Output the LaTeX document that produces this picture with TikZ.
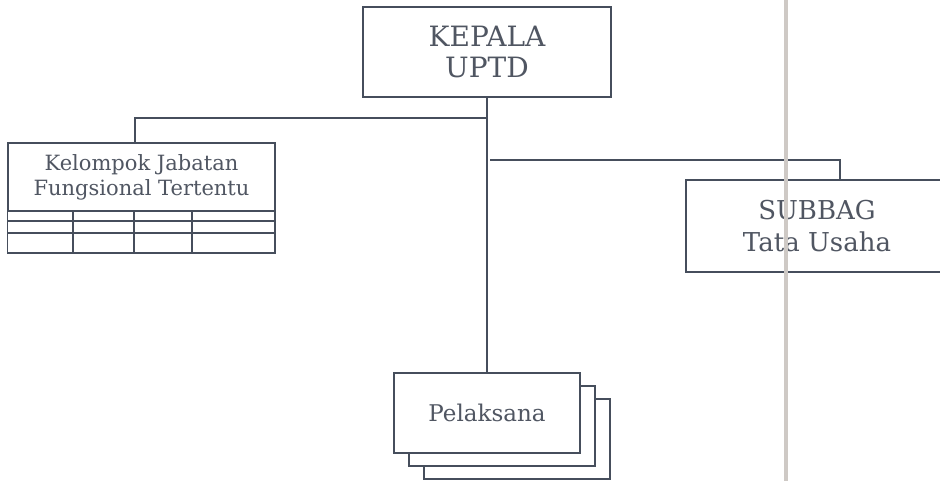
\documentclass[tikz,border=0pt]{standalone}
\usepackage{fontspec}
\setmainfont{DejaVu Serif}
\usetikzlibrary{shadows}
\definecolor{garis}{RGB}{70,78,92}
\definecolor{tulisan}{RGB}{80,86,98}
\definecolor{lipat}{RGB}{206,201,197}
\tikzset{kotak/.style={draw=garis,line width=1.2pt,fill=white,inner sep=0pt,align=center,text=tulisan},
         tumpuk/.style={double copy shadow={shadow xshift=15pt,shadow yshift=-13pt,draw=garis,fill=white,line width=1.2pt}},
         hubung/.style={draw=garis,line width=1.2pt},
         lipatan/.style={draw=lipat,line width=3.5pt}}

\begin{document}
\begin{tikzpicture}[x=1pt,y=-1pt]
\useasboundingbox (0,0) rectangle (940,481);
\node[kotak,minimum width=248pt,minimum height=90pt,font=\fontsize{28}{31}\selectfont] (kepala) at (487,52) {KEPALA\\UPTD};
\node[kotak,minimum width=267pt,minimum height=68pt,font=\fontsize{21}{25}\selectfont] (kelompok) at (141.5,177) {Kelompok Jabatan\\Fungsional Tertentu};
\node[kotak,minimum width=262pt,minimum height=92pt,font=\fontsize{26}{32}\selectfont] (subbag) at (817,226) {SUBBAG\\Tata Usaha};
\node[kotak,tumpuk,minimum width=186pt,minimum height=80pt,font=\fontsize{23}{26}\selectfont] (pelaksana) at (487,413) {Pelaksana};
\draw[hubung] (kelompok.south west) rectangle (275,253);
\foreach \y in {221,233}
  \draw[hubung] (8,\y) -- (275,\y);
\foreach \x in {73,134,192}
  \draw[hubung] (\x,211) -- (\x,253);
\coordinate (kiri) at (487,118);
\coordinate (kanan) at (490,160);
\draw[hubung] (kepala) -- (pelaksana);
\draw[hubung] (kiri) -| ([xshift=-6.5pt]kelompok.north);
\draw[hubung] (kanan) -| ([xshift=23pt]subbag.north);
\draw[lipatan] (786,0) -- (786,481);
\end{tikzpicture}
\end{document}
